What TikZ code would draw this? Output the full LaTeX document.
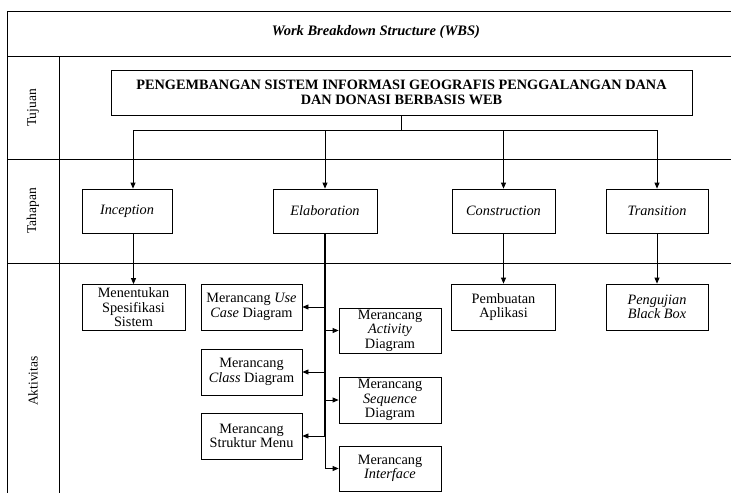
\documentclass[tikz,border=0pt]{standalone}
\usepackage{fontspec}
\setmainfont{Liberation Serif}
\usetikzlibrary{arrows.meta,positioning}

\begin{document}
\begin{tikzpicture}[x=1pt,y=-1pt,
    line width=0.8pt,
    >={Triangle[length=6pt,width=5pt]},
    box/.style={draw, inner sep=0.5pt, align=center, font=\fontsize{14.3}{14.6}\selectfont},
    goalbox/.style={box, minimum width=581pt, minimum height=45pt, font=\fontsize{14.3}{15.5}\selectfont\bfseries},
    phase/.style={box, minimum width=103pt, minimum height=44pt, font=\fontsize{14.3}{15}\selectfont\itshape},
    task/.style={box, minimum width=102pt, minimum height=46pt},
    rowlabel/.style={rotate=90, font=\fontsize{13.5}{15}\selectfont}]
  \useasboundingbox (0,0) rectangle (731,493);

  % frame and rows
  \draw (731,11) -- (7,11) -- (7,493);
  \draw (7,56) -- (731,56);
  \draw (7,159) -- (731,159);
  \draw (7,263) -- (731,263);
  \draw (59,56) -- (59,493);
  \node (title) at (376,32) {\fontsize{14.5}{15}\selectfont\bfseries\itshape Work Breakdown Structure (WBS)};
  \node[rowlabel] (tujuan) at (33,108) {Tujuan};
  \node[rowlabel] (tahapan) at (33,211) {Tahapan};
  \node[rowlabel] (aktivitas) at (33,381) {Aktivitas};

  % tujuan
  \node[goalbox] (goal) at (401.5,92.5) {PENGEMBANGAN SISTEM INFORMASI GEOGRAFIS PENGGALANGAN DANA\\DAN DONASI BERBASIS WEB};

  % tahapan
  \node[phase, minimum width=90pt] (incep) at (127,211) {Inception};
  \node[phase, minimum width=104pt] (elab) [right of=incep, node distance=198pt] {Elaboration};
  \node[phase] (cons) [right of=elab, node distance=178.5pt] {Construction};
  \node[phase, minimum width=102pt] (trans) [right of=cons, node distance=153.5pt] {Transition};

  % aktivitas
  \node[task, minimum width=103pt] (spek) at (133.5,307.5) {Menentukan\\Spesifikasi\\Sistem};
  \node[task, minimum width=101pt] (usecase) at (251.5,307) {Merancang \textit{Use}\\\textit{Case} Diagram};
  \node[task, minimum width=101pt] (class) [below of=usecase, node distance=65pt] {Merancang\\\textit{Class} Diagram};
  \node[task, minimum width=101pt] (menu) [below of=class, node distance=64pt] {Merancang\\Struktur Menu};
  \node[task, minimum height=45pt] (activity) at (390,330.5) {Merancang\\\textit{Activity}\\Diagram};
  \node[task] (sequence) [below of=activity, node distance=69.5pt] {Merancang\\\textit{Sequence}\\Diagram};
  \node[task, minimum height=45pt] (interface) [below of=sequence, node distance=68.5pt] {Merancang\\\textit{Interface}};
  \node[task, minimum width=104pt] (aplikasi) [below of=cons, node distance=96pt] {Pembuatan\\Aplikasi};
  \node[task] (blackbox) [below of=trans, node distance=96pt] {\textit{Pengujian}\\\textit{Black Box}};

  % branches
  \coordinate (fork) at (401,130);
  \coordinate (forkL) at (133,130);
  \coordinate (forkR) at (657,130);
  \draw (goal.south -| fork) -- (fork);
  \draw (forkL) -- (forkR);
  \path[->] (forkL) edge (forkL |- incep.north)
            (fork -| elab.north) edge (elab.north)
            (fork -| cons.north) edge (cons.north)
            (forkR) edge (forkR |- trans.north)
            (spek.north |- incep.south) edge (spek.north)
            (cons.south) edge (aplikasi.north -| cons.south)
            (trans.south) edge (blackbox.north -| trans.south)
            ;

  % elaboration trunk
  \draw[line width=1.6pt] (elab.south) -- (elab.south |- menu.east);
  \draw (elab.south |- menu.east) -- (elab.south |- interface.west);
  \path[->] (elab.south |- usecase.east) edge (usecase.east)
            (elab.south |- class.east) edge (class.east)
            (elab.south |- menu.east) edge (menu.east)
            (elab.south |- activity.west) edge (activity.west)
            (elab.south |- sequence.west) edge (sequence.west)
            (elab.south |- interface.west) edge (interface.west)
            ;
\end{tikzpicture}
\end{document}
